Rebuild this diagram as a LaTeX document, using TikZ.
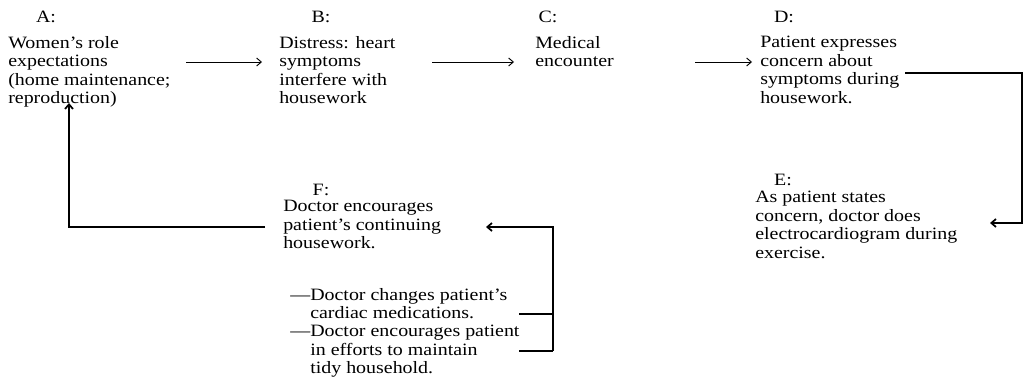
\documentclass[tikz,border=0pt]{standalone}
\usepackage{fontspec}
\setmainfont{Liberation Serif}[FakeStretch=1.15]
\usetikzlibrary{calc,arrows,arrows.meta,positioning}

\begin{document}
\begin{tikzpicture}[x=0.75pt,y=-0.75pt]
    \tikzstyle{every node}=[inner sep=0pt,font=\fontsize{13}{13.9}\selectfont]
    \tikzstyle{block}=[anchor=north west,align=left]
    \tikzstyle{flow}=[-{Straight Barb[length=3.5pt,width=6pt]},line width=0.7pt]
    \tikzstyle{feedback}=[-{Straight Barb[length=3.5pt,width=6pt]},line width=1.3pt]

    \useasboundingbox (0,0) rectangle (1031,383);

    % step labels
    \node (la) at (46,17) {A:};
    \node (lb) at (321,17) {B:};
    \node (lc) at (548,17) {C:};
    \node (ld) at (784,17) {D:};
    \node (le) at (783,180) {E:};
    \node (lf) at (321,190) {F:};

    % text blocks
    \node[block] (roles) at (8,36) {Women's role\\expectations\\(home maintenance;\\reproduction)};
    \node[block] (distress) at (279,36) {Distress: heart\\symptoms\\interfere with\\housework};
    \node[block] (encounter) at (535,36) {Medical\\encounter};
    \node[block] (concern) at (760,36) {Patient expresses\\concern about\\symptoms during\\housework.};
    \node[block] (ecg) at (755,191) {As patient states\\concern, doctor does\\electrocardiogram during\\exercise.};
    \node[block] (keepon) at (283,200) {Doctor encourages\\patient's continuing\\housework.};
    \node[block] (meds) at (310,288) {\llap{---}Doctor changes patient's\\cardiac medications.};
    \node[block] (tidy) at (310,325) {\llap{---}Doctor encourages patient\\in efforts to maintain\\tidy household.};

    % connector ends
    \coordinate (ab1) at (186,62);  \coordinate (ab2) at (262,62);
    \coordinate (bc1) at (432,62);  \coordinate (bc2) at (514,62);
    \coordinate (cd1) at (695,62);  \coordinate (cd2) at (752,62);
    \coordinate (de1) at (905,73);  \coordinate (de2) at (1022,73);
    \coordinate (de3) at (1022,223); \coordinate (de4) at (990,223);
    \coordinate (ef1) at (553,227); \coordinate (ef2) at (486,227);
    \coordinate (ef3) at (519,314); \coordinate (ef4) at (519,351);
    \coordinate (ef5) at (553,351); \coordinate (ef6) at (553,314);
    \coordinate (fa1) at (265,227); \coordinate (fa2) at (69,227);
    \coordinate (fa3) at (69,103);

    \draw[flow] (ab1) -- (ab2);
    \draw[flow] (bc1) -- (bc2);
    \draw[flow] (cd1) -- (cd2);
    \draw[feedback] (de1) -- (de2) -- (de3) -- (de4);
    \draw[feedback] (ef5) -- (ef1) -- (ef2);
    \draw[feedback,-] (ef3) -- (ef6);
    \draw[feedback,-] (ef4) -- (ef5);
    \draw[feedback] (fa1) -- (fa2) -- (fa3);
\end{tikzpicture}
\end{document}
